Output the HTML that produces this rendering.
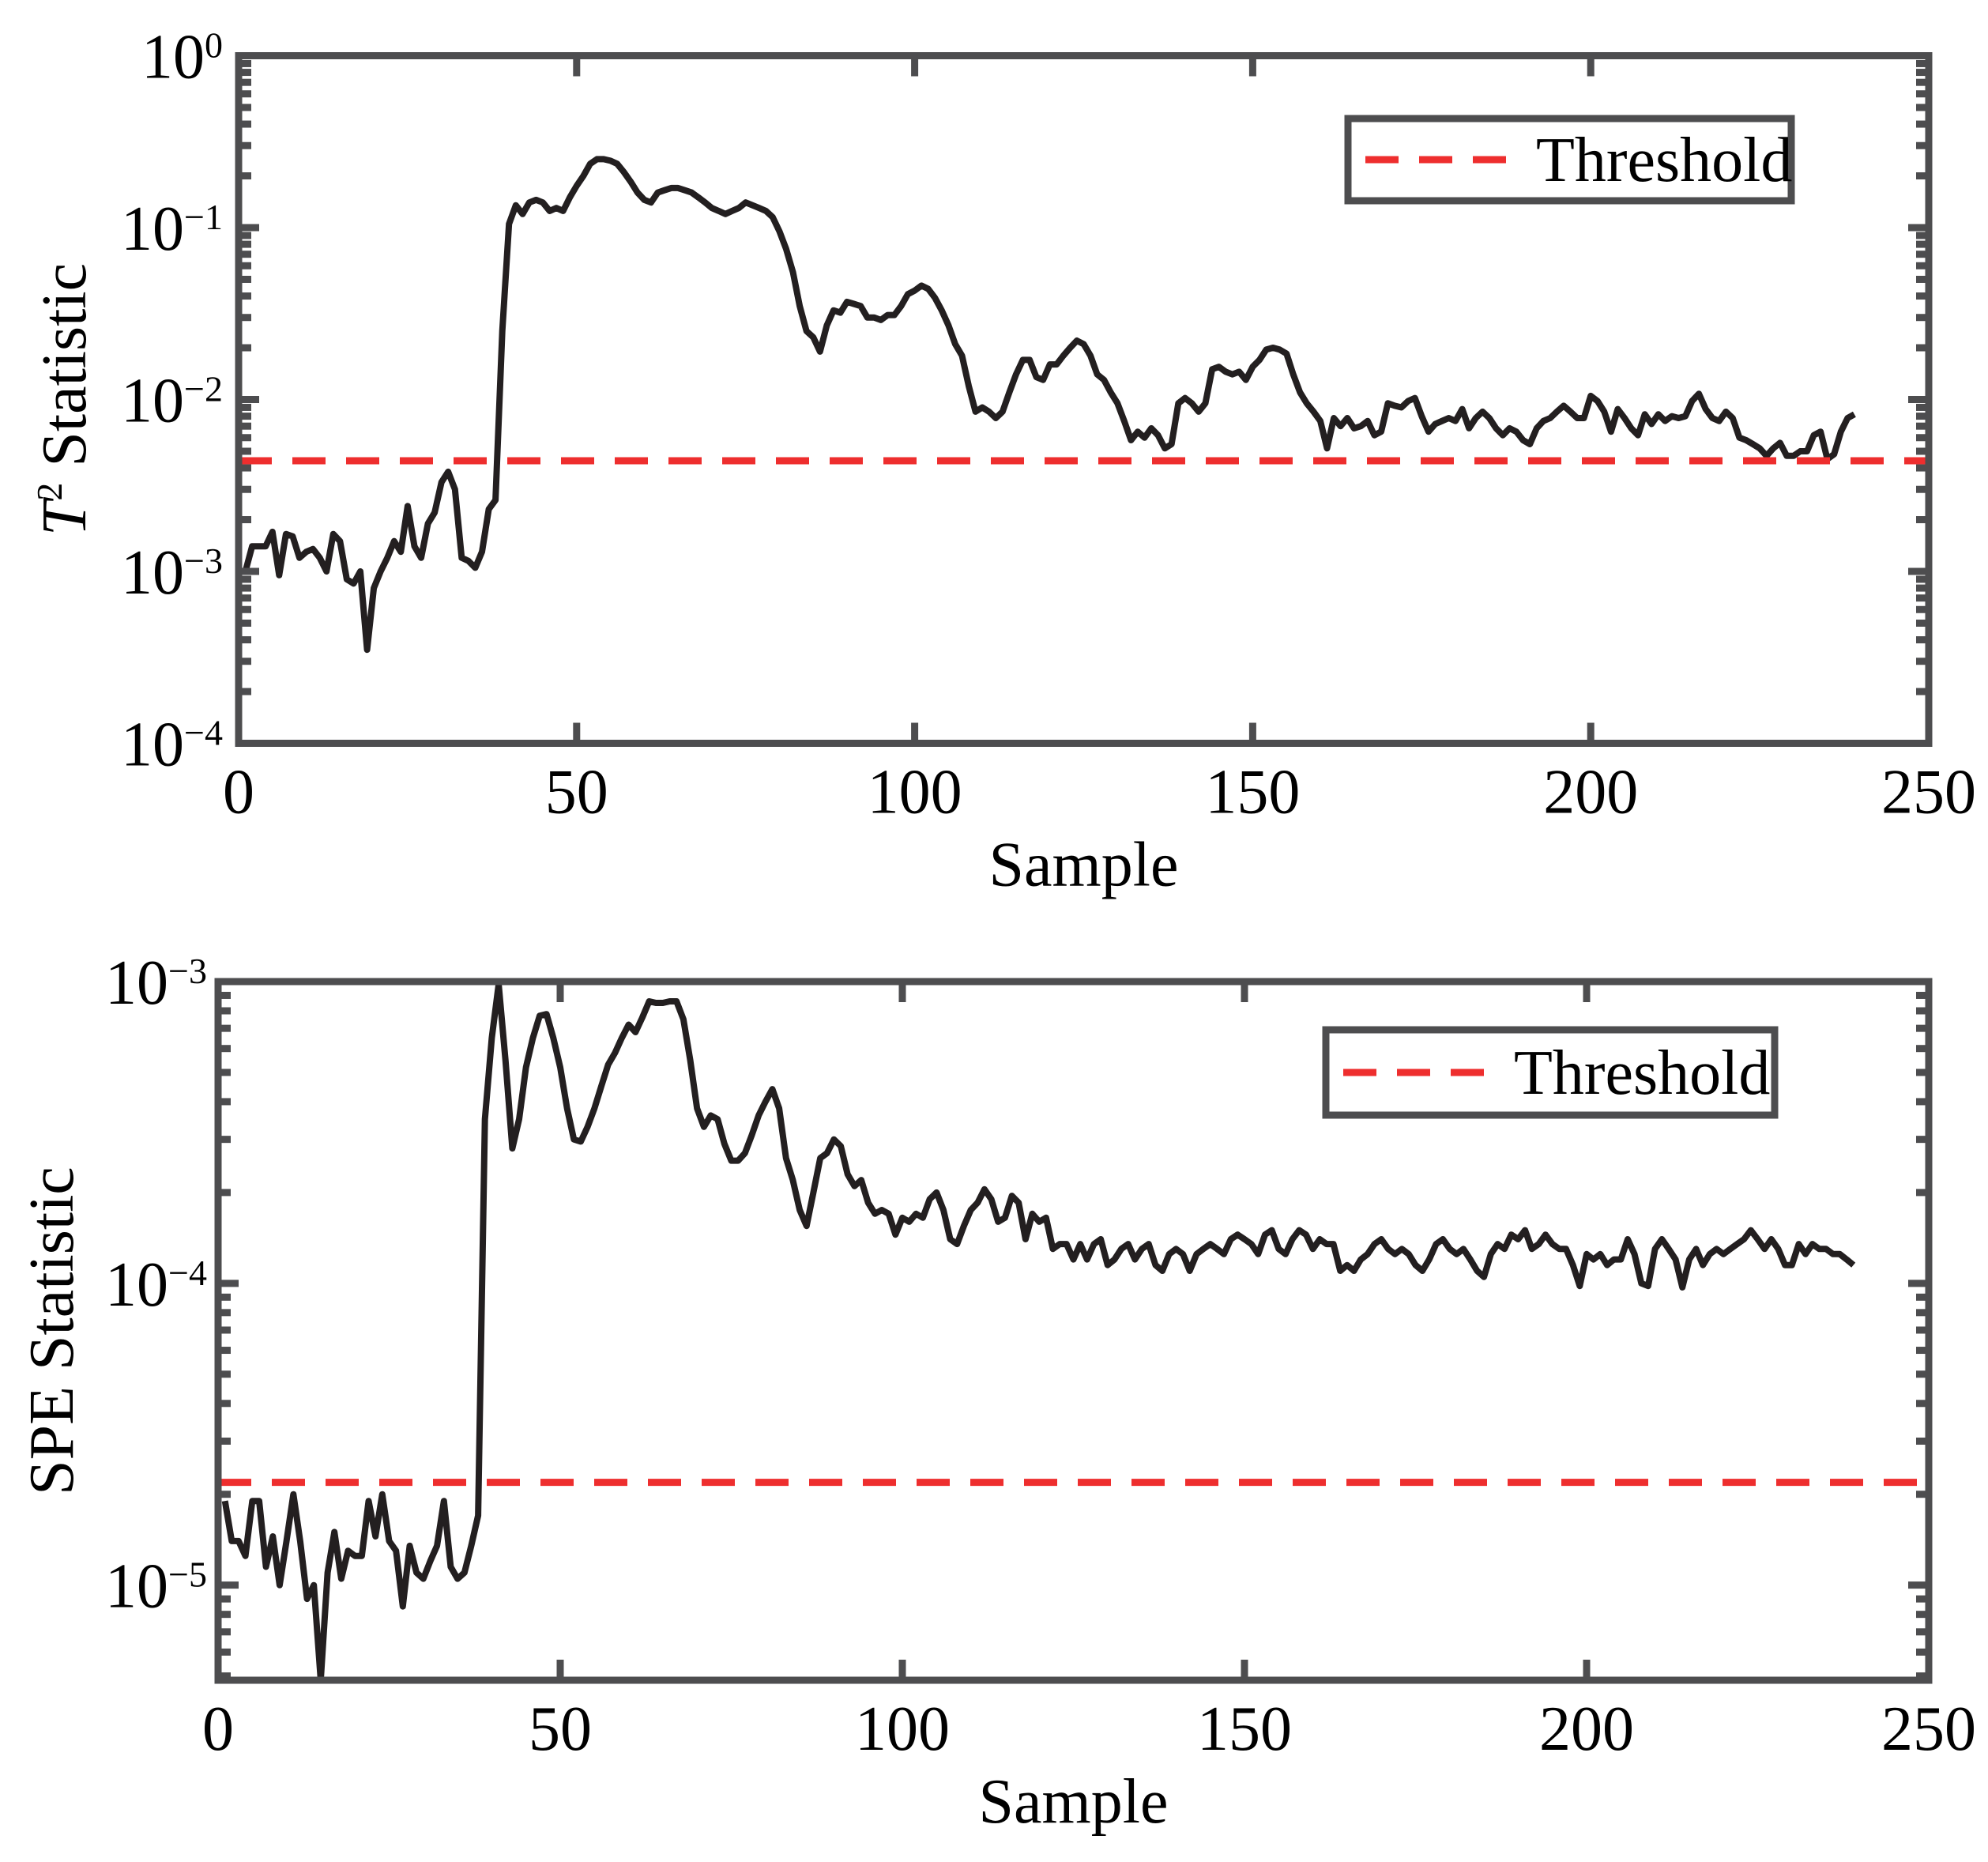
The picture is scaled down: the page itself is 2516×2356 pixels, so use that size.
<!DOCTYPE html>
<html><head><meta charset="utf-8"><style>
html,body{margin:0;padding:0;background:#fff}
svg{display:block}
text{font-family:"Liberation Serif",serif;fill:#000}
</style></head><body>
<svg id="fig" width="2516" height="2356" viewBox="0 0 2516 2356" xmlns="http://www.w3.org/2000/svg"></svg>
<script>
const xTicks=[0,50,100,150,200,250];
const t2Values=[1.0e-3,1.4e-3,1.4e-3,1.4e-3,1.7e-3,0.95e-3,1.65e-3,1.6e-3,1.2e-3,1.3e-3,1.35e-3,1.2e-3,1.0e-3,1.65e-3,1.5e-3,0.9e-3,0.85e-3,1.0e-3,0.35e-3,0.8e-3,1.0e-3,1.2e-3,1.5e-3,1.3e-3,2.4e-3,1.4e-3,1.2e-3,1.9e-3,2.2e-3,3.3e-3,3.8e-3,3.0e-3,1.2e-3,1.15e-3,1.05e-3,1.3e-3,2.3e-3,2.6e-3,2.5e-2,0.105,0.135,0.12,0.14,0.145,0.14,0.125,0.13,0.125,0.15,0.175,0.2,0.235,0.25,0.25,0.245,0.235,0.21,0.185,0.16,0.145,0.14,0.16,0.165,0.17,0.17,0.165,0.16,0.15,0.14,0.13,0.125,0.12,0.125,0.13,0.14,0.135,0.13,0.125,0.115,0.095,0.075,0.055,0.035,0.025,0.023,0.019,0.027,0.033,0.032,0.037,0.036,0.035,0.03,0.03,0.029,0.031,0.031,0.035,0.041,0.043,0.046,0.044,0.039,0.033,0.027,0.021,0.018,0.012,0.0085,0.009,0.0085,0.0078,0.0085,0.011,0.014,0.017,0.017,0.0135,0.013,0.016,0.016,0.018,0.02,0.022,0.021,0.018,0.014,0.013,0.011,0.0095,0.0075,0.0058,0.0065,0.006,0.0068,0.0062,0.0052,0.0055,0.0095,0.0102,0.0095,0.0085,0.0095,0.015,0.0155,0.0145,0.014,0.0145,0.013,0.0155,0.017,0.0195,0.02,0.0195,0.0185,0.014,0.011,0.0095,0.0085,0.0075,0.0052,0.0078,0.007,0.0078,0.0068,0.007,0.0075,0.0062,0.0065,0.0095,0.0092,0.009,0.0098,0.0102,0.008,0.0065,0.0072,0.0075,0.0078,0.0075,0.0088,0.0068,0.0078,0.0085,0.0078,0.0068,0.0062,0.0068,0.0065,0.0058,0.0055,0.0068,0.0075,0.0078,0.0085,0.0092,0.0085,0.0078,0.0078,0.0105,0.0098,0.0085,0.0065,0.0088,0.0078,0.0068,0.0062,0.0082,0.0072,0.0082,0.0075,0.008,0.0078,0.008,0.0098,0.0108,0.0088,0.0078,0.0075,0.0085,0.0078,0.006,0.0058,0.0055,0.0052,0.0047,0.0052,0.0056,0.0047,0.0047,0.005,0.005,0.0062,0.0065,0.0045,0.0048,0.0065,0.0078,0.0082];
const t2Threshold=[0.0044];
const speValues=[1.9e-5,1.4e-5,1.4e-5,1.25e-5,1.9e-5,1.9e-5,1.15e-5,1.45e-5,1.0e-5,1.4e-5,2.0e-5,1.4e-5,0.9e-5,1.0e-5,0.48e-5,1.1e-5,1.5e-5,1.05e-5,1.3e-5,1.25e-5,1.25e-5,1.9e-5,1.45e-5,2.0e-5,1.4e-5,1.3e-5,0.85e-5,1.35e-5,1.1e-5,1.05e-5,1.2e-5,1.35e-5,1.9e-5,1.15e-5,1.05e-5,1.1e-5,1.35e-5,1.7e-5,3.5e-4,6.5e-4,9.8e-4,5.5e-4,2.8e-4,3.5e-4,5.2e-4,6.5e-4,7.7e-4,7.8e-4,6.5e-4,5.2e-4,3.8e-4,3.0e-4,2.95e-4,3.3e-4,3.8e-4,4.5e-4,5.3e-4,5.8e-4,6.5e-4,7.2e-4,6.8e-4,7.6e-4,8.6e-4,8.5e-4,8.5e-4,8.6e-4,8.6e-4,7.5e-4,5.5e-4,3.8e-4,3.3e-4,3.6e-4,3.5e-4,2.9e-4,2.55e-4,2.55e-4,2.7e-4,3.1e-4,3.6e-4,4.0e-4,4.4e-4,3.8e-4,2.6e-4,2.2e-4,1.75e-4,1.55e-4,2.0e-4,2.6e-4,2.7e-4,3.0e-4,2.85e-4,2.3e-4,2.1e-4,2.2e-4,1.85e-4,1.7e-4,1.75e-4,1.7e-4,1.45e-4,1.65e-4,1.6e-4,1.7e-4,1.65e-4,1.9e-4,2.0e-4,1.75e-4,1.4e-4,1.35e-4,1.55e-4,1.75e-4,1.85e-4,2.05e-4,1.9e-4,1.6e-4,1.65e-4,1.95e-4,1.85e-4,1.4e-4,1.7e-4,1.6e-4,1.65e-4,1.3e-4,1.35e-4,1.35e-4,1.2e-4,1.35e-4,1.2e-4,1.35e-4,1.4e-4,1.15e-4,1.2e-4,1.3e-4,1.35e-4,1.2e-4,1.3e-4,1.35e-4,1.15e-4,1.1e-4,1.25e-4,1.3e-4,1.25e-4,1.1e-4,1.25e-4,1.3e-4,1.35e-4,1.3e-4,1.25e-4,1.4e-4,1.45e-4,1.4e-4,1.35e-4,1.25e-4,1.45e-4,1.5e-4,1.3e-4,1.25e-4,1.4e-4,1.5e-4,1.45e-4,1.3e-4,1.4e-4,1.35e-4,1.35e-4,1.1e-4,1.15e-4,1.1e-4,1.2e-4,1.25e-4,1.35e-4,1.4e-4,1.3e-4,1.25e-4,1.3e-4,1.25e-4,1.15e-4,1.1e-4,1.2e-4,1.35e-4,1.4e-4,1.3e-4,1.25e-4,1.3e-4,1.2e-4,1.1e-4,1.05e-4,1.25e-4,1.35e-4,1.3e-4,1.45e-4,1.4e-4,1.5e-4,1.3e-4,1.35e-4,1.45e-4,1.35e-4,1.3e-4,1.3e-4,1.15e-4,0.98e-4,1.25e-4,1.2e-4,1.25e-4,1.15e-4,1.2e-4,1.2e-4,1.4e-4,1.25e-4,1.0e-4,0.98e-4,1.3e-4,1.4e-4,1.3e-4,1.2e-4,0.97e-4,1.2e-4,1.3e-4,1.15e-4,1.25e-4,1.3e-4,1.25e-4,1.3e-4,1.35e-4,1.4e-4,1.5e-4,1.4e-4,1.3e-4,1.4e-4,1.3e-4,1.15e-4,1.15e-4,1.35e-4,1.25e-4,1.35e-4,1.3e-4,1.3e-4,1.25e-4,1.25e-4,1.2e-4,1.15e-4];
const speThreshold=[2.19e-5];
const t2Decades=[-4,-3,-2,-1,0];
const speDecades=[-5,-4,-3];

const NS='http://www.w3.org/2000/svg';
const svg=document.getElementById('fig');
function mk(tag,attrs,parent){const e=document.createElementNS(NS,tag);for(const k in attrs)e.setAttribute(k,attrs[k]);(parent||svg).appendChild(e);return e;}
const AX='#4d4d4f';

function panel(cfg){
  const g=mk('g',{});
  
  
  const {L,R,T,B,lmin,lmax}=cfg;
  const sx=v=>L+(v-0)/(250-0)*(R-L);
  const sy=v=>B-(Math.log10(v)-lmin)/(lmax-lmin)*(B-T);
  let d='';
  cfg.values.forEach((v,i)=>{const x=sx(i+1),y=Math.max(T,Math.min(B,sy(v)));d+=(i?'L':'M')+x.toFixed(1)+' '+y.toFixed(1);});
  const ln=mk('path',{d:d,fill:'none',stroke:'#231f20','stroke-width':8,'stroke-linejoin':'round'},g);
  
  
  const ty=sy(cfg.threshold[0]);
  const th=mk('line',{x1:L,x2:R,y1:ty,y2:ty,stroke:'#ee2e2e','stroke-width':9,'stroke-dasharray':'42 26'},g);
  
  
  for(let k=Math.floor(lmin);k<lmax;k++){
    for(let m=2;m<=9;m++){const v=m*Math.pow(10,k);const lv=Math.log10(v);if(lv<=lmin||lv>=lmax)continue;const y=sy(v);
      mk('line',{x1:L,x2:L+16,y1:y,y2:y,stroke:AX,'stroke-width':9},g);
      mk('line',{x1:R,x2:R-16,y1:y,y2:y,stroke:AX,'stroke-width':9},g);}
  }
  cfg.decades.forEach(k=>{const y=sy(Math.pow(10,k));
    mk('line',{x1:L,x2:L+26,y1:y,y2:y,stroke:AX,'stroke-width':9},g);
    mk('line',{x1:R,x2:R-26,y1:y,y2:y,stroke:AX,'stroke-width':9},g);
    const t=mk('text',{x:cfg.labR,y:y+28,'text-anchor':'end','font-size':80},g);
    
    
    t.appendChild(document.createTextNode('10'));
    const s=mk('tspan',{dy:-26,'font-size':46},t);s.textContent=k<0?'\u2212'+(-k):String(k);
  });
  xTicks.forEach(v=>{const x=sx(v);
    mk('line',{x1:x,x2:x,y1:B,y2:B-26,stroke:AX,'stroke-width':9},g);
    mk('line',{x1:x,x2:x,y1:T,y2:T+26,stroke:AX,'stroke-width':9},g);
    const t=mk('text',{x:x,y:B+88,'text-anchor':'middle','font-size':80},g);
    
    
    t.textContent=v;});
  const fr=mk('rect',{x:L,y:T,width:R-L,height:B-T,fill:'none',stroke:AX,'stroke-width':9},g);
  
  
  const xl=mk('text',{x:(L+R)/2,y:B+180,'text-anchor':'middle','font-size':80},g);
  
  
  xl.textContent='Sample';
  const yl=mk('text',{x:0,y:0,'text-anchor':'middle','font-size':80,transform:`translate(${cfg.ylx},${(T+B)/2}) rotate(-90)`},g);
  
  
  cfg.ytitle(yl);
  const lg=mk('g',{},g);
  
  
  const [lx,ly,lw,lh]=cfg.legend;
  mk('rect',{x:lx,y:ly,width:lw,height:lh,fill:'#fff',stroke:AX,'stroke-width':9},lg);
  mk('line',{x1:lx+22,x2:lx+222,y1:ly+lh/2,y2:ly+lh/2,stroke:'#ee2e2e','stroke-width':9,'stroke-dasharray':'42 26'},lg);
  const lt=mk('text',{x:lx+238,y:ly+lh/2+27,'font-size':80},lg);
  
  
  lt.textContent='Threshold';
}
panel({name:'t2-chart',L:302,R:2441,T:70.5,B:940.5,lmin:-4,lmax:0,values:t2Values,threshold:t2Threshold,decades:t2Decades,labR:282,ylx:108,legend:[1706,150,561,104],
  ytitle:t=>{const a=mk('tspan',{'font-style':'italic'},t);a.textContent='T';const b=mk('tspan',{dy:-30,'font-size':46},t);b.textContent='2';const c=mk('tspan',{dy:30},t);c.textContent=' Statistic';}});
panel({name:'spe-chart',L:276,R:2441,T:1242,B:2126,lmin:Math.log10(4.84e-6),lmax:-3,values:speValues,threshold:speThreshold,decades:speDecades,labR:262,ylx:92,legend:[1678,1303,568,108],
  ytitle:t=>{t.textContent='SPE Statistic';}});
</script>
</body></html>
